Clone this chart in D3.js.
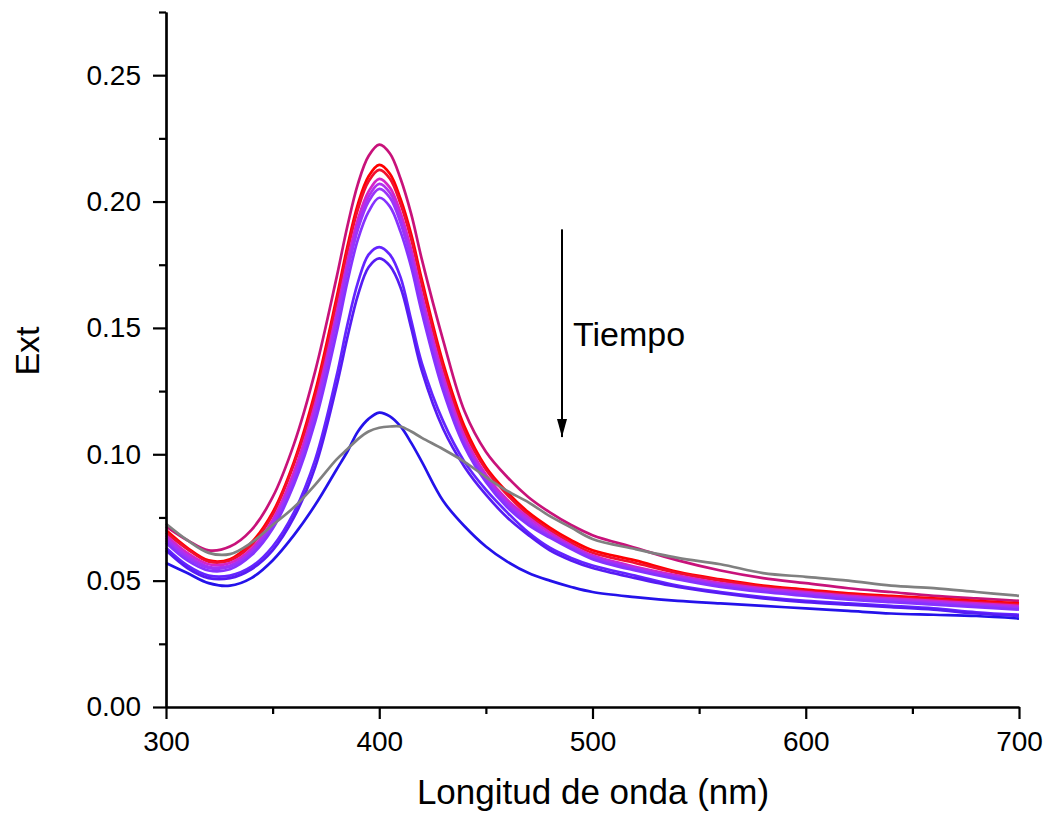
<!DOCTYPE html>
<html>
<head>
<meta charset="utf-8">
<script src="https://cdn.jsdelivr.net/npm/d3@7"></script>
<style>
  body { margin: 0; background: #fff; }
  svg { font-family: Arial, "Liberation Sans", sans-serif; }
</style>
</head>
<body>
<svg id="chart" width="1047" height="813"></svg>
<script>
// wavelengths (nm)
const wavelengths = [300,310,320,330,340,350,360,370,380,385,390,395,400,405,410,415,420,430,440,450,460,470,480,490,500,520,540,560,580,600,620,640,660,680,700];

// extinction spectra
const ext1  = [0.0715,0.066,0.062,0.0635,0.070,0.083,0.104,0.133,0.170,0.190,0.207,0.218,0.2225,0.219,0.209,0.195,0.177,0.145,0.117,0.101,0.091,0.083,0.077,0.072,0.068,0.063,0.058,0.054,0.051,0.049,0.047,0.0455,0.044,0.043,0.042];
const ext2  = [0.070,0.063,0.058,0.0585,0.065,0.077,0.097,0.125,0.162,0.182,0.199,0.210,0.2145,0.211,0.201,0.187,0.169,0.136,0.111,0.095,0.085,0.077,0.071,0.066,0.062,0.058,0.0535,0.0505,0.048,0.0465,0.045,0.044,0.043,0.042,0.041];
const ext3  = [0.069,0.0625,0.0575,0.058,0.064,0.076,0.096,0.123,0.160,0.180,0.197,0.208,0.2125,0.209,0.199,0.185,0.167,0.134,0.109,0.094,0.084,0.076,0.070,0.065,0.061,0.057,0.053,0.050,0.0475,0.046,0.0445,0.0435,0.0425,0.0415,0.0405];
const ext4  = [0.068,0.061,0.0565,0.057,0.0625,0.074,0.093,0.120,0.156,0.176,0.193,0.204,0.209,0.2055,0.1955,0.181,0.163,0.131,0.107,0.092,0.082,0.075,0.069,0.064,0.060,0.0555,0.052,0.049,0.047,0.0455,0.044,0.043,0.042,0.041,0.040];
const ext5  = [0.067,0.060,0.0555,0.056,0.0615,0.073,0.091,0.118,0.154,0.174,0.191,0.202,0.207,0.2035,0.1935,0.179,0.161,0.129,0.105,0.091,0.081,0.074,0.068,0.0635,0.0595,0.055,0.0515,0.0485,0.0465,0.045,0.0435,0.0425,0.0415,0.0405,0.0395];
const ext6  = [0.066,0.059,0.055,0.0555,0.061,0.072,0.090,0.116,0.152,0.172,0.189,0.200,0.205,0.2015,0.1915,0.177,0.159,0.127,0.104,0.090,0.080,0.073,0.0675,0.063,0.059,0.0545,0.051,0.048,0.046,0.0445,0.043,0.042,0.041,0.040,0.039];
const ext7  = [0.065,0.058,0.054,0.0545,0.060,0.0705,0.088,0.113,0.148,0.168,0.185,0.196,0.2015,0.198,0.188,0.174,0.156,0.125,0.103,0.089,0.079,0.072,0.067,0.0625,0.0585,0.054,0.0505,0.0475,0.0455,0.044,0.0425,0.0415,0.0405,0.0395,0.0385];
const ext8  = [0.063,0.056,0.052,0.052,0.0555,0.0635,0.077,0.098,0.131,0.151,0.168,0.179,0.182,0.179,0.170,0.153,0.136,0.113,0.097,0.086,0.077,0.069,0.063,0.059,0.056,0.052,0.048,0.0455,0.0435,0.042,0.041,0.040,0.039,0.0375,0.0365];
const ext9  = [0.062,0.055,0.051,0.051,0.0545,0.062,0.075,0.095,0.127,0.146,0.163,0.174,0.1775,0.1745,0.166,0.150,0.133,0.110,0.095,0.084,0.075,0.068,0.062,0.058,0.055,0.051,0.0475,0.045,0.043,0.0415,0.0405,0.0395,0.0385,0.037,0.036];
const ext10 = [0.057,0.053,0.049,0.048,0.051,0.058,0.068,0.080,0.094,0.101,0.109,0.114,0.1165,0.115,0.111,0.1045,0.097,0.0815,0.0715,0.0635,0.0575,0.053,0.050,0.0475,0.0455,0.0435,0.042,0.041,0.040,0.039,0.038,0.037,0.0365,0.036,0.035];
const extGray = [0.0725,0.066,0.061,0.0605,0.065,0.072,0.079,0.088,0.098,0.102,0.106,0.109,0.1105,0.111,0.111,0.109,0.1065,0.102,0.097,0.091,0.0855,0.081,0.0755,0.071,0.0665,0.0625,0.059,0.0565,0.053,0.0515,0.050,0.048,0.047,0.0455,0.044];

const spectra = [ext1, ext2, ext3, ext4, ext5, ext6, ext7, ext8, ext9, ext10, extGray];
const colors  = ["#c8127a", "#ff0000", "#f2102e", "#d424c8", "#b030ee", "#9a34fa", "#8632ff", "#6424ff", "#561cf4", "#2412ea", "#808080"];

const xMajor = [300, 400, 500, 600, 700];
const xMinor = [350, 450, 550, 650];
const yMajor = [0, 0.05, 0.10, 0.15, 0.20, 0.25];
const yMinor = [0.025, 0.075, 0.125, 0.175, 0.225, 0.275];

const svg = d3.select("#chart");
const plotLeft = 166, plotRight = 1019, plotTop = 12, plotBottom = 707;

const x = d3.scaleLinear().domain([300, 700]).range([plotLeft, plotRight]);
const y = d3.scaleLinear().domain([0, 0.275]).range([plotBottom, plotTop]);

const line = d3.line()
  .x((d, i) => x(wavelengths[i]))
  .y(d => y(d))
  .curve(d3.curveCatmullRom);

const g = svg.append("g");
spectra.forEach((s, i) => {
  g.append("path")
    .attr("d", line(s))
    .attr("fill", "none")
    .attr("stroke", colors[i])
    .attr("stroke-width", 2.7)
    .attr("stroke-linejoin", "round");
});

// axes
const styleAxis = (sel) => {
  sel.select(".domain").attr("stroke", "#000").attr("stroke-width", 2.2);
  sel.selectAll(".tick line").attr("stroke", "#000").attr("stroke-width", 2.2);
  sel.selectAll("text").attr("font-size", 28).attr("fill", "#000")
     .attr("font-family", "Arial, 'Liberation Sans', sans-serif");
};

svg.append("g").attr("transform", `translate(0,${plotBottom})`)
  .call(d3.axisBottom(x).tickValues(xMinor).tickSize(7).tickSizeOuter(0).tickFormat(""))
  .call(styleAxis);
svg.append("g").attr("transform", `translate(0,${plotBottom})`)
  .call(d3.axisBottom(x).tickValues(xMajor).tickSize(12).tickPadding(12).tickSizeOuter(0).tickFormat(d3.format("d")))
  .call(styleAxis);

svg.append("g").attr("transform", `translate(${plotLeft},0)`)
  .call(d3.axisLeft(y).tickValues(yMinor).tickSize(7).tickSizeOuter(0).tickFormat(""))
  .call(styleAxis);
svg.append("g").attr("transform", `translate(${plotLeft},0)`)
  .call(d3.axisLeft(y).tickValues(yMajor).tickSize(13).tickPadding(12).tickSizeOuter(0).tickFormat(d3.format(".2f")))
  .call(styleAxis);

// axis titles
svg.append("text")
  .attr("x", 593).attr("y", 804)
  .attr("text-anchor", "middle").attr("font-size", 35)
  .text("Longitud de onda (nm)");

svg.append("text")
  .attr("transform", "translate(39,351) rotate(-90)")
  .attr("text-anchor", "middle").attr("font-size", 34)
  .text("Ext");

// time arrow
const defs = svg.append("defs");
defs.append("marker")
  .attr("id", "head").attr("viewBox", "0 0 10 18")
  .attr("refX", 5).attr("refY", 18)
  .attr("markerWidth", 10).attr("markerHeight", 18)
  .attr("markerUnits", "userSpaceOnUse")
  .attr("orient", "0")
  .append("path").attr("d", "M0,0 L10,0 L5,18 Z").attr("fill", "#000");

svg.append("line")
  .attr("x1", x(485.7)).attr("x2", x(485.7))
  .attr("y1", y(0.189)).attr("y2", y(0.1068))
  .attr("stroke", "#000").attr("stroke-width", 2)
  .attr("marker-end", "url(#head)");

svg.append("text")
  .attr("x", 573).attr("y", 346)
  .attr("font-size", 34)
  .text("Tiempo");
</script>
</body>
</html>
